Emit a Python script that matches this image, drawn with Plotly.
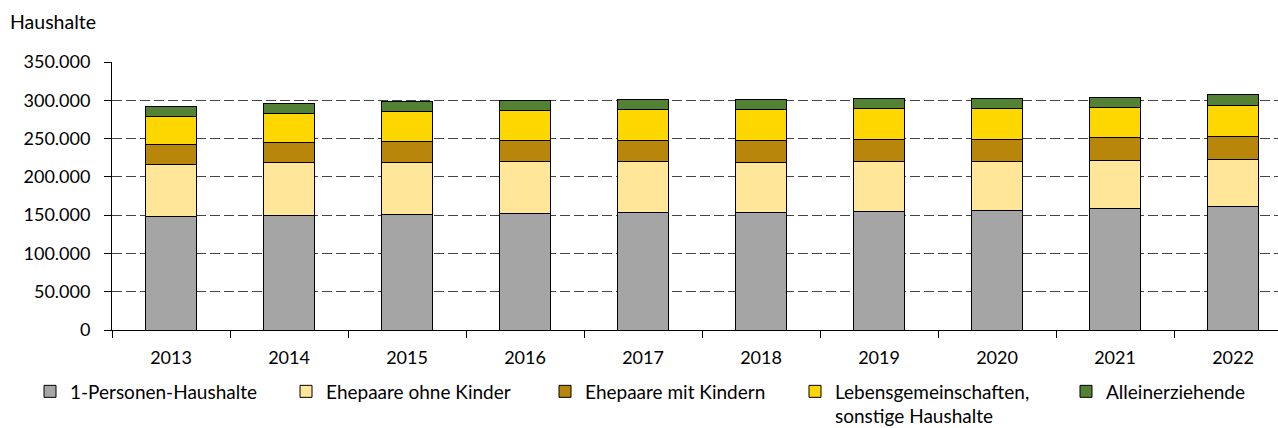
import plotly.graph_objects as go

years = ["2013", "2014", "2015", "2016", "2017", "2018", "2019", "2020", "2021", "2022"]
einpersonen = [147900, 149600, 150900, 152700, 154100, 153500, 155400, 155800, 158800, 161400]
ohne_kinder = [68500, 68600, 68100, 66800, 65800, 65500, 64500, 64100, 62800, 61500]
mit_kindern = [25400, 26200, 26700, 27500, 27900, 28800, 28800, 29200, 29700, 29700]
lebensgem = [37400, 38300, 39200, 40000, 39800, 40200, 40200, 39800, 39300, 40600]
alleinerz = [12700, 12700, 13100, 12300, 13400, 12600, 13100, 13100, 13100, 14000]

series_names = ["1-Personen-Haushalte", "Ehepaare ohne Kinder", "Ehepaare mit Kindern",
                "Lebensgemeinschaften,<br>sonstige Haushalte", "Alleinerziehende"]
series_values = [einpersonen, ohne_kinder, mit_kindern, lebensgem, alleinerz]
colors = ["#A5A5A5", "#FFE699", "#B8860B", "#FFD700", "#548235"]
y_tickvals = [0, 50000, 100000, 150000, 200000, 250000, 300000, 350000]

FONT = "Lato, Carlito, Calibri, sans-serif"
W, H = 1278, 428

fig = go.Figure()
legend_ids = ["legend", "legend2", "legend3", "legend4", "legend5"]
for name, vals, col, lid in zip(series_names, series_values, colors, legend_ids):
    fig.add_trace(go.Bar(
        x=years, y=vals, name=name, legend=lid, showlegend=True,
        marker=dict(color=col, line=dict(color="#000000", width=1)),
    ))

# legend text start positions (px) in the reference
text_starts = [67, 323, 582, 832, 1103]
legend_common = dict(
    orientation="h", xref="container", yref="container",
    xanchor="left", yanchor="top", y=1 - 372.5 / H,
    bgcolor="rgba(0,0,0,0)", font=dict(family=FONT, size=19, color="#000"),
    valign="top", itemclick=False, itemdoubleclick=False, tracegroupgap=0,
)
legends = {}
for lid, ts in zip(legend_ids, text_starts):
    legends[lid] = dict(legend_common, x=(ts - 37) / W)

fig.update_layout(
    width=W, height=H,
    margin=dict(l=112, r=0, t=62, b=98, autoexpand=False),
    paper_bgcolor="white", plot_bgcolor="white",
    barmode="stack", bargap=0.563,
    separators=",.",
    showlegend=True,
    font=dict(family=FONT, size=18, color="#000"),
    title=dict(text="Haushalte", x=10 / W, xanchor="left", xref="container",
               y=1 - 22 / H, yanchor="middle", yref="container",
               font=dict(family=FONT, size=19.5, color="#000")),
    **legends,
)
fig.update_xaxes(
    type="category", range=[-0.5, 9.381],
    showline=True, linecolor="#000", linewidth=1,
    ticks="outside", tickson="boundaries", ticklen=7, tickcolor="#000",
    ticklabelstandoff=11,
    showgrid=False, tickfont=dict(family=FONT, size=18, color="#000"),
)
fig.update_yaxes(
    range=[0, 350000], tickvals=y_tickvals, tickformat=",d",
    showline=True, linecolor="#000", linewidth=1,
    ticks="outside", ticklen=7, tickcolor="#000",
    ticklabelstandoff=10,
    showgrid=True, gridcolor="#444", gridwidth=1, griddash="10px,4px",
    zeroline=False, tickfont=dict(family=FONT, size=18, color="#000"),
)

fig.write_html("out.html", config={"displayModeBar": False},
               post_script="document.body.style.margin='0';")
